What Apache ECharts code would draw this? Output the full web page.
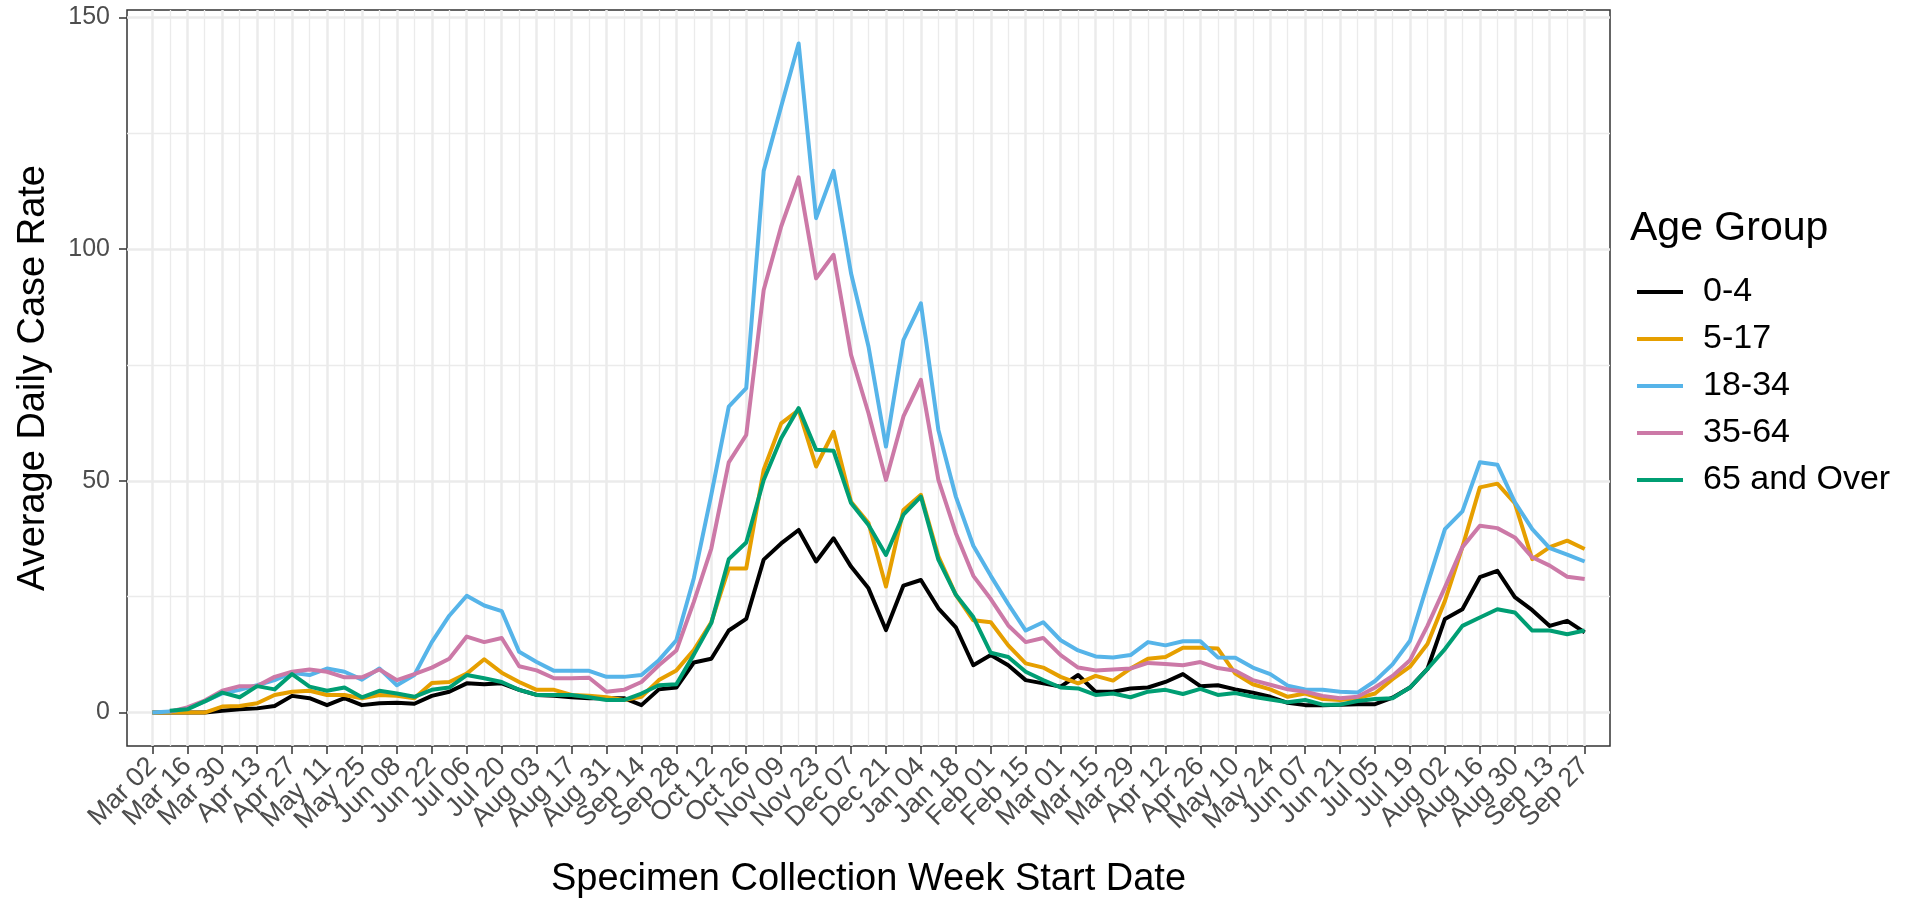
<!DOCTYPE html>
<html>
<head>
<meta charset="utf-8">
<script src="https://cdn.jsdelivr.net/npm/echarts@6/dist/echarts.min.js"></script>
<style>
html,body{margin:0;padding:0;background:#fff;}
#chart{width:1930px;height:898px;}
</style>
</head>
<body>
<div id="chart"></div>
<script>
// Week index 0 = Mar 02 (2020), weekly through Sep 27 (2021)
const weekLabels = ['Mar 02','Mar 16','Mar 30','Apr 13','Apr 27','May 11','May 25','Jun 08','Jun 22','Jul 06','Jul 20','Aug 03','Aug 17','Aug 31','Sep 14','Sep 28','Oct 12','Oct 26','Nov 09','Nov 23','Dec 07','Dec 21','Jan 04','Jan 18','Feb 01','Feb 15','Mar 01','Mar 15','Mar 29','Apr 12','Apr 26','May 10','May 24','Jun 07','Jun 21','Jul 05','Jul 19','Aug 02','Aug 16','Aug 30','Sep 13','Sep 27'];
const seriesNames = ['0-4','5-17','18-34','35-64','65 and Over'];
const age0_4 = [0,0,0,0,0.4,0.7,0.9,1.4,3.6,3.1, 1.6,3.1,1.6,2,2.1,1.9,3.6,4.5,6.3,6.1, 6.3,4.9,3.8,3.6,3.3,3.1,3.1,3.1,1.6,5, 5.4,10.8,11.6,17.7,20.2,33,36.5,39.4,32.6,37.6, 31.5,26.8,17.8,27.4,28.6,22.5,18.4,10.2,12.4,10.2, 7,6.3,5.6,8.1,4.5,4.5,5.2,5.4,6.6,8.3, 5.7,5.9,5,4.3,3.4,2.1,1.6,1.6,1.7,1.8, 1.8,3.2,5.4,9.4,20.2,22.3,29.2,30.6,24.9,22.1, 18.7,19.8,17.3];
const age5_17 = [0,0,0,0,1.3,1.4,2,3.8,4.5,4.7, 3.8,3.8,3.1,3.8,3.6,3.1,6.4,6.6,8.4,11.5, 8.6,6.6,4.9,4.9,3.8,3.6,3.3,2.7,3.4,7, 9.1,13.5,19.5,31.1,31.1,52.4,62.4,65.3,53.1,60.6, 45.5,40.9,27.2,43.7,47,33.7,25.4,19.9,19.5,14.5, 10.6,9.7,7.7,6.3,7.9,6.9,9.5,11.6,12,14, 14,13.8,8.4,6.1,5,3.4,4.1,2.9,2.7,3.1, 4.1,7.2,9.9,14.8,24.1,35.7,48.6,49.4,45.2,33.1, 35.7,37.1,35.3];
const age18_34 = [0,0.2,0.9,2.4,4.1,4.9,5.9,7,8.6,8.1, 9.5,8.8,7.1,9.5,5.9,8.1,15.2,20.9,25.2,23.1, 21.9,13.1,10.9,9,9,9,7.7,7.7,8.1,11.3, 15.6,29,47,66,70,116.9,130.8,144.4,106.7,116.9, 94.8,79,57.4,80.4,88.3,61,46.6,36,29.5,23.4, 17.7,19.5,15.6,13.4,12.1,11.9,12.4,15.2,14.5,15.4, 15.4,11.9,11.8,9.7,8.3,5.8,5,4.9,4.5,4.3, 6.8,10.4,15.5,27.7,39.6,43.4,54,53.5,45.4,39.6, 35.5,34.1,32.6];
const age35_64 = [null,0.2,1.1,2.6,4.7,5.7,5.7,7.7,8.8,9.3, 8.8,7.6,7.6,9.3,7,8.3,9.7,11.6,16.4,15.2, 16.1,10,9.1,7.4,7.4,7.5,4.5,4.9,6.6,10.2, 13.4,23.9,35.4,54,59.9,91.2,104.9,115.5,93.7,98.8, 77.2,64.6,50.2,63.9,71.8,50.2,38.7,29.5,24.5,18.8, 15.2,16.1,12.4,9.7,9.1,9.3,9.5,10.7,10.5,10.2, 10.9,9.6,9,7,6,5,4.5,3.6,3.1,3.4, 5.4,7.9,11.3,18.7,27,35.7,40.3,39.8,37.8,33.5, 31.7,29.3,28.8];
const age65plus = [null,0.4,0.7,2.4,4.3,3.3,5.7,5,8.3,5.6, 4.7,5.4,3.3,4.7,4.1,3.4,4.9,5.4,8.1,7.4, 6.6,4.9,3.8,3.8,3.8,3.3,2.7,2.7,4.1,5.9, 6.1,12.5,19.3,33.1,36.7,50.2,59.2,65.7,56.7,56.5, 45.2,40.5,34,42.7,46.6,33,25.4,20.6,12.9,12, 8.8,7,5.4,5.2,3.8,4.1,3.3,4.5,4.9,4, 5.1,3.8,4.2,3.4,2.8,2.2,2.7,1.7,1.7,2.5, 2.9,3.1,5.4,9.4,13.7,18.7,20.5,22.3,21.6,17.7, 17.7,16.9,17.7];
const yTicks = [0, 50, 100, 150];
const yMinorTicks = [25, 75, 125];

const seriesValues = [age0_4, age5_17, age18_34, age35_64, age65plus];
const colors = ['#000000','#E69F00','#56B4E9','#CC79A7','#009E73'];
const FONT = '"Liberation Sans", Arial, sans-serif';

const nWeeks = age0_4.length;
const majorWeeks = weekLabels.map((_, i) => i * 2);
const labelWeeksA = majorWeeks.filter((_, i) => i % 2 === 0);
const labelWeeksB = majorWeeks.filter((_, i) => i % 2 === 1);
const minorWeeks = [];
for (let w = 1; w < nWeeks; w += 2) minorWeeks.push(w);

const xMin = -1.45, xMax = (nWeeks - 1) + 1.45;
const yMin = -7.22, yMax = 151.62;

const xLabelStyle = (vals) => ({
  show: true, customValues: vals, rotate: 45, margin: 16,
  showMinLabel: true, showMaxLabel: true, hideOverlap: false,
  fontFamily: FONT, fontSize: 27, color: '#4D4D4D',
  formatter: v => weekLabels[Math.round(v / 2)] || ''
});

const chart = echarts.init(document.getElementById('chart'), null, {renderer: 'canvas'});
const option = {
  backgroundColor: '#ffffff',
  animation: false,
  textStyle: {fontFamily: FONT},
  title: {
    text: 'Age Group', left: 1630, top: 208, padding: 0,
    textStyle: {fontFamily: FONT, fontSize: 41, fontWeight: 'normal', color: '#000', lineHeight: 42}
  },
  grid: {
    left: 127, right: 320, top: 10, bottom: 152,
    outerBoundsMode: 'none',
    show: true, borderColor: '#333333', borderWidth: 1.5, backgroundColor: 'transparent',
    containLabel: false
  },
  legend: {
    orient: 'vertical', left: 1632, top: 270,
    icon: 'rect', itemWidth: 46, itemHeight: 4, itemGap: 13,
    data: seriesNames,
    textStyle: {fontFamily: FONT, fontSize: 34, color: '#000', lineHeight: 30, height: 30, padding: [0, 0, 0, 15]},
    selectedMode: false
  },
  xAxis: [{
    type: 'value', min: xMin, max: xMax, position: 'bottom',
    name: 'Specimen Collection Week Start Date', nameLocation: 'middle', nameGap: 115,
    nameTextStyle: {fontFamily: FONT, fontSize: 38, color: '#000'},
    nameMoveOverlap: false,
    axisLine: {show: false, onZero: false},
    axisTick: {show: true, length: 8, lineStyle: {color: '#333333', width: 1.5}, customValues: majorWeeks},
    axisLabel: xLabelStyle(labelWeeksA),
    splitLine: {show: true, lineStyle: {color: '#EBEBEB', width: 2.5}}
  }, {
    type: 'value', min: xMin, max: xMax, position: 'top',
    axisLine: {show: false, onZero: false},
    axisTick: {show: false, customValues: minorWeeks},
    axisLabel: {show: false},
    splitLine: {show: true, lineStyle: {color: '#EBEBEB', width: 1.3}}
  }, {
    type: 'value', min: xMin, max: xMax, position: 'bottom', offset: 0,
    axisLine: {show: false, onZero: false},
    axisTick: {show: false, customValues: labelWeeksB},
    axisLabel: xLabelStyle(labelWeeksB),
    splitLine: {show: false}
  }],
  yAxis: [{
    type: 'value', min: yMin, max: yMax, position: 'left',
    name: 'Average Daily Case Rate', nameLocation: 'middle', nameGap: 74, nameRotate: 90,
    nameTextStyle: {fontFamily: FONT, fontSize: 38, color: '#000'},
    nameMoveOverlap: false,
    axisLine: {show: false, onZero: false},
    axisTick: {show: true, length: 8, lineStyle: {color: '#333333', width: 1.5}, customValues: yTicks},
    axisLabel: {show: true, customValues: yTicks, margin: 17, showMinLabel: true, showMaxLabel: true,
      fontFamily: FONT, fontSize: 25, color: '#4D4D4D'},
    splitLine: {show: true, lineStyle: {color: '#EBEBEB', width: 2.5}}
  }, {
    type: 'value', min: yMin, max: yMax, position: 'right',
    axisLine: {show: false, onZero: false},
    axisTick: {show: false, customValues: yMinorTicks},
    axisLabel: {show: false},
    splitLine: {show: true, lineStyle: {color: '#EBEBEB', width: 1.3}}
  }],
  series: seriesNames.map((name, k) => ({
    name: name,
    type: 'line',
    xAxisIndex: 0, yAxisIndex: 0,
    data: seriesValues[k].map((v, i) => [i, v]),
    symbol: 'none', showSymbol: false,
    connectNulls: false,
    lineStyle: {color: colors[k], width: 4, join: 'round'},
    itemStyle: {color: colors[k]},
    emphasis: {disabled: true},
    z: 2 + k
  }))
};
chart.setOption(option);
</script>
</body>
</html>
